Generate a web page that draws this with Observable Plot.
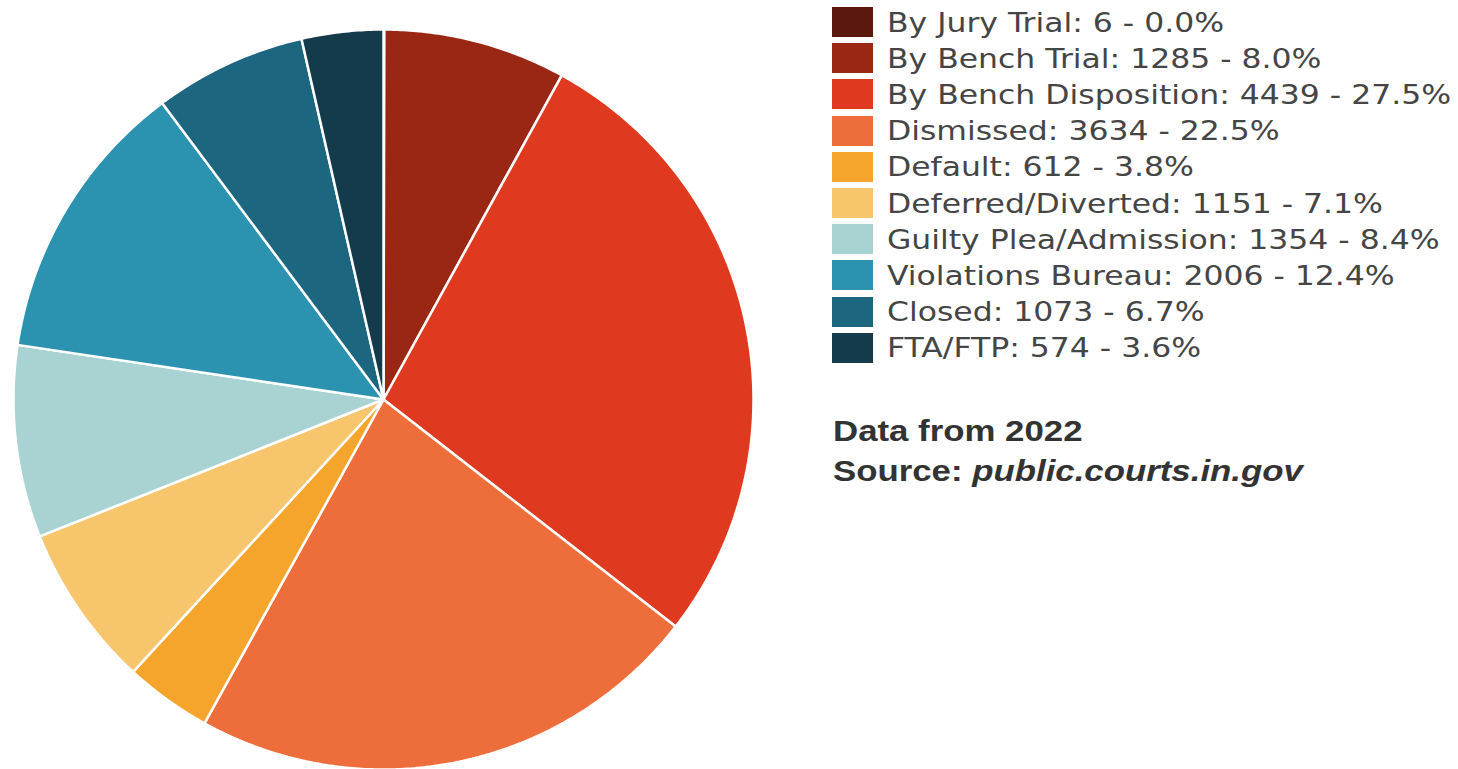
<!DOCTYPE html>
<html>
<head>
<meta charset="utf-8">
<script src="https://cdn.jsdelivr.net/npm/d3@7"></script>
<script src="https://cdn.jsdelivr.net/npm/@observablehq/plot@0.6"></script>
<style>
  html, body { margin: 0; padding: 0; background: #fff; }
  #wrap { position: relative; width: 1458px; height: 769px; overflow: hidden; }
  #chart { position: absolute; left: 0; top: 0; }
  #legend { position: absolute; left: 832px; top: 4px; font-family: "DejaVu Sans", Verdana, sans-serif; font-size: 27px; color: #454545; }
  .row { display: flex; align-items: center; height: 36.2px; white-space: nowrap; }
  .sw { width: 41px; height: 30px; margin-right: 14px; flex: none; }
  .lab { display: inline-block; transform: scaleX(1.165); transform-origin: 0 50%; }
  #note { position: absolute; left: 833px; top: 411px; font-family: "Liberation Sans", Arial, sans-serif; font-weight: bold; font-size: 29px; line-height: 40px; color: #333; transform: scaleX(1.2); transform-origin: 0 0; white-space: nowrap; }
</style>
</head>
<body>
<div id="wrap">
  <div id="chart"></div>
  <div id="legend"></div>
  <div id="note">Data from 2022<br>Source: <i>public.courts.in.gov</i></div>
</div>
<script>
const categories = ["By Jury Trial", "By Bench Trial", "By Bench Disposition", "Dismissed", "Default",
  "Deferred/Diverted", "Guilty Plea/Admission", "Violations Bureau", "Closed", "FTA/FTP"];
const counts = [6, 1285, 4439, 3634, 612, 1151, 1354, 2006, 1073, 574];
const percents = ["0.0%", "8.0%", "27.5%", "22.5%", "3.8%", "7.1%", "8.4%", "12.4%", "6.7%", "3.6%"];
const colors = ["#5b190e", "#9a2614", "#df3a1f", "#ee6e3b", "#f5a52b", "#f7c56b", "#a8d3d2", "#2b93b0", "#1d6680", "#143b4b"];

// build slice outlines (center -> arc -> center) from the counts
const arcs = d3.pie().sort(null)(counts);
const pts = [];
arcs.forEach((a, i) => {
  const n = Math.max(2, Math.ceil((a.endAngle - a.startAngle) / (2 * Math.PI) * 720));
  pts.push({cat: categories[i], x: 0, y: 0});
  for (let k = 0; k <= n; k++) {
    const t = a.startAngle + (a.endAngle - a.startAngle) * k / n;
    pts.push({cat: categories[i], x: Math.sin(t), y: Math.cos(t)});
  }
  pts.push({cat: categories[i], x: 0, y: 0});
});

const chart = Plot.plot({
  width: 770,
  height: 769,
  marginLeft: 13,
  marginRight: 17,
  marginTop: 29,
  marginBottom: 0,
  x: {domain: [-1, 1], axis: null},
  y: {domain: [-1, 1], axis: null},
  color: {domain: categories, range: colors},
  marks: [
    Plot.line(pts, {x: "x", y: "y", z: "cat", fill: "cat", stroke: "white", strokeWidth: 2.5, strokeLinejoin: "miter", curve: "linear"})
  ]
});
document.getElementById("chart").appendChild(chart);

const legend = document.getElementById("legend");
categories.forEach((c, i) => {
  const row = document.createElement("div");
  row.className = "row";
  const sw = document.createElement("div");
  sw.className = "sw";
  sw.style.background = colors[i];
  const label = document.createElement("span");
  label.className = "lab";
  label.textContent = `${c}: ${counts[i]} - ${percents[i]}`;
  row.appendChild(sw);
  row.appendChild(label);
  legend.appendChild(row);
});
</script>
</body>
</html>
